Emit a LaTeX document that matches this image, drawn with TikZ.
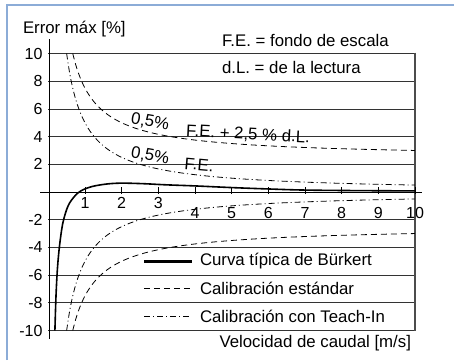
\documentclass[tikz,border=0pt]{standalone}
\usepackage{fontspec}
\setmainfont{Liberation Sans}
\begin{document}
\begin{tikzpicture}[x=1pt,y=-1pt,
  every node/.style={inner sep=0pt,outer sep=0pt,font=\fontsize{16.8}{19}\selectfont},
  grid/.style={draw=black!80,line width=0.8pt},
  axisline/.style={draw=black,line width=1pt},
  dashline/.style={draw=black,line width=0.8pt,dash pattern=on 6pt off 4pt},
  dotline/.style={draw=black,line width=0.8pt,dash pattern=on 6pt off 3pt on 1pt off 3pt},
  burkert/.style={draw=black,line width=1.6pt},
  ticklab/.style={anchor=center,font=\fontsize{16}{18}\selectfont},
  ylab/.style={anchor=east,font=\fontsize{16}{18}\selectfont}]
\useasboundingbox (0,0) rectangle (454,360);
\definecolor{frameblue}{RGB}{140,172,215}
\draw[frameblue,line width=1.2pt] (7,360) -- (7,5) -- (454,5);
% grid lines
\foreach \yy in {10,8,6,4,2,-2,-4,-6,-8,-10}{
  \draw[grid] (48.3,{192-13.85*\yy}) -- (415,{192-13.85*\yy});
}
% right border
\draw[draw=black!70,line width=1.2pt] (415,52.5) -- (415,330.5);
% axes
\draw[axisline] (49,39) -- (49,339);
\draw[axisline] (40,192) -- (422,192);
% y labels
\foreach \yy in {10,8,6,4,2,-2,-4,-6,-8,-10}{
  \node[ylab] (yl\yy) at (42.5,{192-13.85*\yy}) {\yy};
}
% ticks & x labels
\foreach \v in {1,...,10}{
  \draw[line width=0.8pt] ({48.3+36.67*\v},187) -- ({48.3+36.67*\v},193.5);
}
\foreach \v in {1,2,3}{
  \node[ticklab] (xl\v) at ({48.3+36.67*\v},202.5) {\v};
}
\foreach \v in {4,...,10}{
  \node[ticklab] (xl\v) at ({48.3+36.67*\v},213) {\v};
}
% curves
\begin{scope}[shift={(48.3,192)},x=36.67pt,y=13.85pt]
  \draw[dashline] plot[domain=0.667:10,samples=120,smooth] (\x,{5/\x+2.5});
  \draw[dashline] plot[domain=0.667:10,samples=120,smooth] (\x,{-5/\x-2.5});
  \draw[dotline] plot[domain=0.5:10,samples=120,smooth] (\x,{5/\x});
  \draw[dotline] plot[domain=0.5:10,samples=120,smooth] (\x,{-5/\x});
  \draw[burkert] plot[smooth,tension=0.55] coordinates {(0.18,-10) (0.21,-7.5) (0.25,-5.5) (0.31,-3.8) (0.4,-2.2) (0.54,-1.0) (0.72,-0.3) (0.9,0.1) (1.2,0.4) (1.6,0.58) (2,0.64) (2.6,0.6) (3.2,0.52) (4,0.44) (5,0.32) (6,0.22) (7,0.14) (8.5,0.1) (10,0.08)};
\end{scope}
% labels on curves
\node[rotate=-10] (l1a) at (150,122) {0,5\%};
\node[rotate=-3] (l1b) at (248,134.5) {F.E. + 2,5 \% d.L.};
\node[rotate=-10] (l2a) at (150,156) {0,5\%};
\node[rotate=-5] (l2b) at (199,164.5) {F.E.};
% texts
\node[anchor=west] (title) at (23,29) {Error máx [\%]};
\node[anchor=west] (fe) at (222,40) {F.E. = fondo de escala};
\node[anchor=west] (dl) at (222,67) {d.L. = de la lectura};
\node[anchor=east] (xt) at (411,343) {Velocidad de caudal [m/s]};
% legend
\coordinate (la1) at (144,261.5);
\coordinate (lb1) at (192,261.5);
\coordinate (la2) at (144,288.5);
\coordinate (lb2) at (192,288.5);
\coordinate (la3) at (144,316);
\coordinate (lb3) at (192,316);
\draw[draw=black,line width=2.6pt] (la1) -- (lb1);
\draw[dashline] (la2) -- (lb2);
\draw[dotline] (la3) -- (lb3);
\node[anchor=west] (t1) at (200,261.5) {Curva típica de Bürkert};
\node[anchor=west] (t2) at (200,288.5) {Calibración estándar};
\node[anchor=west] (t3) at (200,316) {Calibración con Teach-In};
\end{tikzpicture}
\end{document}
